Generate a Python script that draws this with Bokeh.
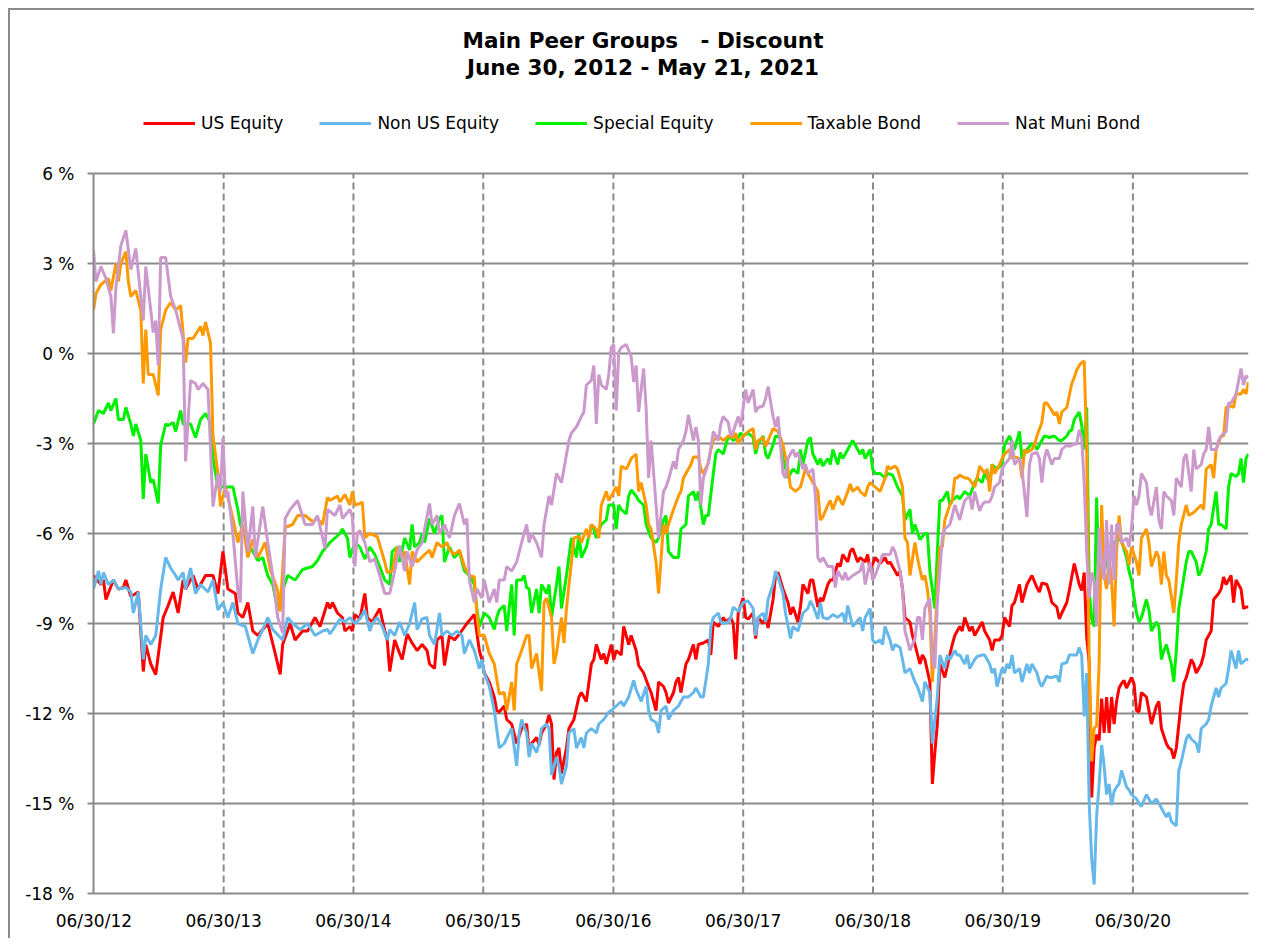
from datetime import date
from bokeh.plotting import figure
from bokeh.models import FixedTicker, PrintfTickFormatter, Legend, LegendItem, Label, Range1d
from bokeh.embed import file_html
from bokeh.resources import INLINE

# Weekly observations: (week index since Fri 06/29/2012, discount in %)
start_date = date(2012, 6, 29)
tick_dates = [date(2012, 6, 30), date(2013, 6, 30), date(2014, 6, 30), date(2015, 6, 30),
              date(2016, 6, 30), date(2017, 6, 30), date(2018, 6, 30), date(2019, 6, 30),
              date(2020, 6, 30)]
tick_labels = ["06/30/12", "06/30/13", "06/30/14", "06/30/15", "06/30/16",
               "06/30/17", "06/30/18", "06/30/19", "06/30/20"]
y_ticks = [-18, -15, -12, -9, -6, -3, 0, 3, 6]
last_week = 464

title_line1 = "Main Peer Groups \u00a0 - Discount"
title_line2 = "June 30, 2012 - May 21, 2021"

series_names = ["US Equity", "Non US Equity", "Special Equity", "Taxable Bond", "Nat Muni Bond"]
series_colors = ["#ff0000", "#66b8ea", "#00f000", "#ff9900", "#cc99cc"]

us_equity = [
    (0, -7.4), (3, -7.7), (4, -7.55), (5, -8.2), (8, -7.55), (10, -7.85), (12, -7.8), (13, -7.55),
    (15, -8.1), (18, -7.95), (20, -10.6), (21, -9.7), (23, -10.35), (25, -10.7), (28, -8.8), (30, -8.4),
    (32, -7.95), (34, -8.65), (36, -7.55), (37, -7.85), (40, -7.4), (42, -7.85), (45, -7.4), (48, -7.4),
    (50, -8.0), (52, -6.6), (54, -7.85), (57, -8.0), (58, -8.65), (60, -8.8), (62, -8.3), (64, -9.25),
    (66, -9.4), (70, -9.0), (73, -10.0), (75, -10.7), (76, -9.7), (79, -9.0), (81, -9.55), (84, -9.25),
    (86, -9.25), (89, -8.8), (91, -9.1), (94, -8.3), (95, -8.5), (96, -8.3), (98, -8.65), (100, -8.8),
    (101, -9.25), (103, -9.1), (104, -9.25), (105, -8.7), (107, -8.85), (109, -8.0), (110, -8.8),
    (112, -8.95), (115, -8.5), (117, -9.25), (118, -9.55), (119, -10.6), (121, -9.55), (123, -10.0),
    (124, -10.2), (126, -9.35), (128, -9.65), (130, -9.9), (132, -9.7), (134, -9.9), (135, -10.35),
    (137, -10.5), (138, -9.55), (140, -9.4), (141, -10.4), (143, -9.4), (145, -9.55), (147, -9.35),
    (150, -9.0), (152, -8.8), (153, -8.7), (155, -9.9), (156, -10.2), (157, -10.65), (159, -10.95),
    (161, -11.45), (162, -11.9), (163, -11.95), (165, -11.75), (166, -12.2), (168, -12.35), (170, -13.0),
    (172, -12.5), (174, -12.35), (175, -13.3), (176, -13.0), (178, -12.8), (179, -13.05), (180, -12.65),
    (182, -12.35), (183, -12.05), (184, -12.35), (185, -14.2), (186, -13.3), (187, -13.15), (188, -14.0),
    (190, -13.15), (191, -12.5), (193, -12.2), (195, -11.45), (196, -11.3), (198, -11.6), (200, -10.35),
    (201, -10.2), (202, -9.7), (204, -10.2), (205, -10.0), (206, -10.35), (208, -9.7), (209, -10.2),
    (210, -9.9), (212, -10.05), (213, -9.1), (214, -9.4), (215, -9.7), (216, -9.4), (218, -9.9),
    (219, -10.4), (221, -10.65), (223, -11.1), (224, -11.3), (226, -11.9), (227, -10.95), (229, -11.1),
    (230, -11.3), (231, -11.65), (233, -11.3), (234, -10.95), (235, -10.8), (236, -11.3), (238, -10.35),
    (239, -10.2), (241, -9.7), (242, -10.2), (243, -9.7), (245, -9.65), (247, -9.55), (248, -10.05),
    (249, -8.95), (251, -9.1), (253, -8.8), (254, -8.95), (256, -8.8), (257, -9.0), (258, -10.2),
    (259, -8.65), (261, -8.15), (262, -8.8), (263, -8.85), (265, -8.65), (266, -9.5), (267, -8.8),
    (269, -9.0), (270, -8.8), (271, -9.15), (273, -8.2), (274, -7.4), (275, -7.3), (277, -7.85),
    (279, -8.3), (280, -8.7), (281, -8.45), (283, -8.95), (284, -8.45), (285, -7.7), (287, -8.0),
    (288, -7.55), (289, -7.55), (291, -8.45), (292, -8.15), (293, -8.25), (295, -7.7), (296, -7.55),
    (297, -7.55), (299, -7.0), (300, -7.1), (301, -6.7), (303, -6.95), (304, -6.6), (305, -6.5),
    (307, -6.95), (308, -6.8), (310, -6.95), (311, -6.7), (312, -7.25), (314, -6.8), (316, -7.0),
    (318, -6.8), (319, -7.0), (320, -6.95), (322, -7.25), (323, -7.4), (324, -7.25), (325, -7.85),
    (326, -8.8), (328, -8.95), (329, -9.4), (330, -9.7), (332, -10.35), (333, -10.05), (334, -10.2),
    (336, -10.95), (337, -14.35), (338, -13.3), (339, -12.35), (340, -10.35), (342, -10.8), (344, -10.05),
    (345, -9.7), (346, -9.4), (348, -9.1), (349, -9.25), (350, -8.8), (352, -9.25), (353, -9.1),
    (354, -9.4), (356, -9.1), (357, -8.95), (358, -9.25), (360, -9.55), (361, -9.9), (362, -9.55),
    (364, -9.55), (365, -9.4), (366, -8.8), (368, -9.1), (369, -8.4), (370, -8.3), (372, -7.7),
    (373, -8.3), (374, -8.0), (375, -7.7), (377, -7.4), (379, -7.8), (380, -7.95), (381, -7.65),
    (383, -7.7), (384, -7.95), (385, -8.3), (387, -8.45), (388, -8.85), (389, -8.65), (391, -8.3),
    (392, -7.9), (393, -7.45), (394, -7.0), (396, -7.7), (397, -7.9), (398, -7.3), (399, -9.45),
    (400, -10.3), (401, -14.8), (402, -13.15), (403, -12.7), (404, -12.9), (405, -11.5), (406, -12.65),
    (407, -11.45), (408, -12.65), (409, -11.45), (410, -12.35), (411, -11.6), (412, -11.15), (413, -11.0),
    (414, -10.9), (415, -11.15), (417, -10.8), (418, -11.0), (419, -11.9), (420, -11.95), (421, -11.3),
    (423, -11.45), (424, -11.9), (425, -12.35), (427, -11.75), (428, -11.6), (429, -12.5), (431, -13.0),
    (432, -13.15), (433, -13.2), (434, -13.5), (435, -13.15), (437, -11.6), (438, -11.0), (439, -10.8),
    (441, -10.2), (442, -10.35), (443, -10.65), (445, -10.35), (446, -10.05), (447, -9.55), (449, -9.25),
    (450, -8.2), (452, -8.0), (453, -7.85), (454, -7.45), (455, -7.7), (457, -7.4), (458, -8.3),
    (459, -7.55), (460, -7.7), (461, -7.85), (462, -8.5), (463, -8.45), (464, -8.45),
]

non_us_equity = [
    (0, -7.85), (2, -7.25), (3, -7.7), (4, -7.3), (6, -7.7), (8, -7.55), (10, -7.85), (13, -7.8),
    (15, -7.95), (16, -8.65), (18, -7.95), (20, -10.2), (21, -9.4), (23, -9.7), (25, -9.4), (27, -7.85),
    (29, -6.8), (31, -7.15), (33, -7.4), (34, -7.55), (36, -7.3), (37, -7.85), (39, -7.15), (41, -8.0),
    (43, -7.7), (46, -7.95), (48, -7.55), (50, -8.55), (52, -8.3), (54, -8.8), (56, -8.3), (58, -9.0),
    (61, -9.1), (64, -10.0), (66, -9.55), (68, -9.2), (70, -8.8), (72, -9.2), (76, -9.55), (78, -8.8),
    (80, -9.0), (83, -9.2), (86, -9.0), (89, -9.4), (92, -9.25), (94, -9.2), (95, -9.35), (97, -9.1),
    (99, -8.85), (101, -8.95), (103, -8.8), (105, -9.0), (107, -8.85), (109, -8.55), (111, -9.25),
    (112, -9.0), (114, -8.8), (116, -9.1), (118, -9.55), (119, -9.2), (121, -9.4), (123, -8.95),
    (125, -9.4), (127, -9.0), (129, -8.3), (130, -9.2), (132, -8.85), (134, -8.8), (135, -9.4),
    (137, -9.7), (139, -8.65), (140, -9.4), (142, -9.25), (144, -9.4), (146, -9.25), (148, -9.4),
    (149, -10.0), (151, -9.55), (153, -9.9), (155, -10.5), (156, -10.2), (157, -10.65), (159, -11.1),
    (161, -11.9), (163, -13.15), (165, -13.0), (167, -12.65), (168, -12.5), (170, -13.75), (171, -12.65),
    (172, -12.2), (174, -12.65), (175, -13.45), (176, -13.0), (178, -13.3), (179, -13.0), (180, -12.5),
    (182, -12.35), (183, -12.5), (184, -14.05), (186, -13.45), (187, -13.75), (188, -14.35), (190, -13.75),
    (191, -12.65), (193, -12.5), (194, -13.15), (196, -12.8), (197, -13.15), (198, -12.65), (200, -12.5),
    (202, -12.65), (203, -12.35), (205, -12.2), (207, -11.95), (208, -11.9), (210, -11.75), (212, -11.6),
    (213, -11.75), (215, -11.45), (217, -10.9), (218, -11.2), (220, -11.6), (222, -11.1), (223, -11.9),
    (224, -12.2), (226, -12.3), (227, -12.65), (228, -11.9), (230, -11.75), (231, -12.2), (233, -11.9),
    (235, -11.75), (237, -11.45), (239, -11.45), (241, -11.3), (242, -11.15), (244, -11.45), (245, -11.45),
    (247, -10.35), (248, -9.1), (249, -8.8), (251, -8.65), (252, -8.95), (253, -9.0), (255, -8.95),
    (256, -8.8), (257, -8.45), (259, -8.6), (260, -8.45), (261, -8.3), (263, -8.25), (265, -8.5),
    (266, -9.4), (267, -8.8), (269, -8.65), (270, -8.95), (271, -8.2), (273, -7.7), (274, -7.25),
    (275, -7.45), (277, -8.0), (278, -8.65), (280, -9.5), (281, -9.1), (283, -9.25), (284, -8.95),
    (285, -8.65), (287, -8.5), (288, -8.25), (289, -8.4), (291, -8.85), (292, -8.3), (293, -8.8),
    (295, -8.85), (297, -8.7), (299, -8.8), (301, -8.65), (302, -9.0), (303, -8.4), (305, -9.1),
    (306, -9.0), (308, -8.8), (309, -9.25), (310, -8.8), (312, -8.5), (313, -9.55), (314, -9.65),
    (316, -9.55), (317, -9.7), (318, -9.1), (320, -9.55), (321, -9.9), (322, -9.7), (324, -9.8),
    (325, -10.2), (326, -10.65), (328, -10.5), (330, -10.95), (331, -11.1), (333, -11.6), (334, -10.95),
    (336, -11.3), (337, -13.0), (338, -12.2), (339, -11.45), (340, -10.05), (342, -10.5), (343, -10.05),
    (344, -10.2), (346, -9.9), (347, -10.05), (348, -10.05), (350, -10.35), (351, -10.05), (352, -10.5),
    (354, -10.2), (355, -10.1), (357, -10.05), (358, -10.05), (360, -10.35), (361, -10.65), (362, -10.5),
    (363, -11.1), (365, -10.5), (366, -10.65), (367, -10.35), (368, -10.5), (369, -10.05), (370, -10.65),
    (372, -10.5), (373, -10.95), (375, -10.35), (376, -10.65), (377, -10.35), (379, -10.65), (380, -10.95),
    (381, -11.1), (383, -10.75), (384, -10.8), (385, -10.8), (387, -10.75), (388, -10.95), (389, -10.35),
    (391, -10.3), (392, -10.05), (393, -10.05), (395, -10.05), (396, -9.8), (397, -10.05), (398, -12.1),
    (399, -10.65), (400, -15.0), (401, -16.85), (402, -17.7), (403, -15.4), (404, -14.35), (405, -13.05),
    (406, -13.75), (407, -14.7), (408, -14.35), (409, -15.05), (410, -14.6), (411, -14.45), (412, -14.35),
    (413, -13.9), (415, -14.45), (416, -14.55), (417, -14.7), (419, -14.85), (420, -15.0), (421, -15.1),
    (423, -14.7), (424, -14.85), (425, -15.0), (427, -14.85), (428, -15.0), (429, -15.15), (431, -15.45),
    (432, -15.3), (433, -15.6), (435, -15.75), (436, -13.9), (437, -13.6), (439, -12.85), (440, -12.7),
    (441, -12.85), (443, -13.0), (444, -13.3), (445, -12.5), (447, -12.35), (448, -12.2), (449, -11.75),
    (451, -11.15), (452, -11.45), (453, -11.15), (455, -11.0), (456, -10.5), (457, -9.9), (459, -10.5),
    (460, -9.9), (461, -10.35), (463, -10.2), (464, -10.2),
]

special_equity = [
    (0, -2.35), (2, -1.9), (4, -2.0), (6, -1.65), (7, -1.9), (9, -1.5), (10, -2.2), (12, -2.2),
    (13, -1.8), (15, -2.35), (16, -2.75), (17, -2.35), (19, -2.9), (20, -4.85), (21, -3.35), (23, -4.3),
    (24, -4.2), (26, -5.0), (27, -3.05), (29, -2.35), (30, -2.4), (32, -2.3), (33, -2.6), (35, -1.9),
    (36, -2.35), (39, -2.35), (41, -2.8), (43, -2.2), (45, -2.0), (47, -2.3), (48, -3.5), (50, -4.45),
    (53, -4.45), (56, -4.45), (58, -5.2), (59, -5.7), (62, -6.3), (66, -6.9), (68, -6.8), (70, -7.4),
    (72, -7.7), (74, -8.55), (76, -7.9), (78, -7.4), (81, -7.55), (84, -7.2), (88, -7.1), (90, -6.9),
    (92, -6.6), (95, -6.3), (97, -6.15), (99, -6.0), (100, -5.85), (102, -6.15), (103, -6.8), (105, -6.3),
    (107, -6.45), (109, -6.85), (111, -6.45), (113, -6.7), (115, -7.1), (117, -7.55), (119, -7.7),
    (120, -6.6), (122, -6.45), (123, -6.95), (125, -6.15), (127, -6.55), (128, -5.7), (129, -6.45),
    (131, -6.3), (132, -6.0), (133, -6.3), (135, -5.5), (137, -6.0), (139, -5.5), (140, -5.4),
    (141, -6.95), (143, -6.45), (145, -6.8), (147, -6.6), (149, -7.25), (151, -7.4), (153, -7.7),
    (154, -8.5), (155, -9.1), (157, -8.65), (159, -8.8), (161, -9.2), (162, -8.8), (163, -8.55),
    (165, -8.4), (166, -9.25), (168, -7.7), (169, -9.4), (170, -7.55), (172, -7.55), (173, -7.4),
    (174, -7.8), (175, -7.85), (176, -8.65), (178, -7.85), (179, -8.65), (180, -7.7), (182, -8.0),
    (183, -7.7), (184, -8.8), (186, -7.7), (187, -7.1), (188, -8.5), (190, -7.4), (192, -6.15),
    (194, -6.8), (195, -6.0), (196, -6.8), (198, -6.45), (200, -5.7), (201, -5.85), (202, -6.15),
    (204, -5.7), (206, -5.55), (207, -5.05), (209, -5.05), (210, -5.85), (211, -5.05), (212, -5.2),
    (214, -5.35), (215, -4.75), (216, -4.55), (218, -4.75), (219, -4.9), (221, -5.05), (222, -5.7),
    (224, -6.15), (226, -6.3), (227, -6.15), (229, -5.55), (230, -5.4), (231, -6.6), (233, -6.8),
    (235, -6.8), (236, -5.85), (238, -5.7), (239, -4.75), (241, -4.6), (242, -4.9), (243, -4.6),
    (245, -5.7), (246, -5.4), (247, -5.4), (249, -4.0), (250, -3.35), (251, -3.2), (253, -3.35),
    (255, -2.75), (257, -2.9), (259, -2.8), (260, -2.65), (261, -2.75), (263, -2.65), (265, -2.8),
    (266, -3.35), (267, -3.0), (269, -2.75), (270, -3.35), (271, -3.5), (273, -3.05), (274, -2.75),
    (276, -2.8), (277, -3.5), (279, -4.15), (281, -3.85), (283, -4.0), (284, -3.2), (285, -3.7),
    (287, -2.9), (288, -2.8), (289, -3.35), (291, -3.7), (292, -3.5), (293, -3.75), (295, -3.5),
    (296, -3.7), (297, -3.2), (299, -3.7), (300, -3.3), (301, -3.5), (303, -3.2), (305, -2.9),
    (306, -3.05), (308, -3.35), (309, -3.2), (310, -3.5), (312, -3.2), (313, -3.85), (314, -4.0),
    (316, -4.0), (318, -4.15), (319, -4.0), (321, -4.05), (323, -4.45), (325, -4.75), (326, -5.55),
    (328, -5.2), (329, -6.0), (330, -5.7), (332, -6.2), (334, -6.0), (335, -6.0), (336, -7.25),
    (338, -8.5), (339, -6.6), (340, -4.9), (341, -4.9), (343, -4.6), (344, -5.05), (345, -4.9),
    (347, -4.75), (348, -4.85), (350, -4.6), (352, -4.75), (354, -4.3), (355, -4.15), (357, -4.3),
    (358, -4.0), (360, -4.3), (361, -3.7), (363, -3.85), (365, -3.7), (366, -3.05), (368, -2.75),
    (370, -3.2), (372, -2.6), (373, -3.5), (375, -3.2), (377, -3.0), (378, -3.05), (379, -3.2),
    (381, -2.9), (382, -2.75), (384, -2.8), (386, -2.75), (388, -2.9), (389, -2.9), (391, -2.75),
    (392, -2.6), (393, -2.55), (394, -2.2), (396, -1.95), (397, -2.4), (398, -3.2), (399, -1.8),
    (400, -7.9), (401, -8.85), (402, -9.1), (403, -4.8), (404, -7.9), (405, -6.8), (406, -7.3),
    (407, -6.9), (408, -6.5), (410, -6.3), (412, -6.2), (413, -6.25), (415, -6.8), (416, -7.25),
    (417, -7.55), (419, -8.65), (420, -8.95), (421, -8.8), (423, -8.2), (424, -8.55), (425, -9.25),
    (427, -8.95), (428, -9.1), (429, -10.2), (430, -9.9), (431, -9.7), (433, -10.35), (434, -10.95),
    (435, -9.9), (436, -8.5), (437, -8.0), (439, -6.95), (440, -6.6), (441, -6.6), (443, -6.95),
    (444, -7.4), (445, -7.25), (447, -6.6), (448, -5.85), (449, -5.7), (451, -4.6), (452, -5.7),
    (453, -5.7), (455, -5.85), (456, -4.45), (457, -4.0), (459, -4.1), (460, -4.0), (461, -3.5),
    (462, -4.3), (463, -3.5), (464, -3.35),
]

taxable_bond = [
    (0, 1.45), (1, 2.0), (3, 2.3), (6, 2.5), (7, 2.1), (9, 3.0), (10, 2.4), (11, 3.0), (13, 3.4),
    (14, 2.4), (15, 1.9), (17, 2.1), (19, 1.45), (20, -1.0), (21, 0.8), (22, -0.7), (24, -0.7),
    (26, -1.4), (27, 0.8), (29, 1.45), (31, 1.7), (33, 1.45), (35, 1.6), (37, -0.3), (38, 0.5),
    (40, 0.5), (43, 0.9), (44, 0.6), (45, 1.05), (47, 0.35), (48, -2.75), (50, -4.0), (51, -5.1),
    (53, -4.45), (56, -5.5), (58, -6.3), (60, -5.7), (62, -6.8), (64, -6.2), (66, -6.8), (69, -6.3),
    (71, -7.2), (74, -7.9), (75, -8.6), (77, -5.8), (80, -5.7), (82, -5.4), (85, -5.4), (88, -5.6),
    (90, -5.5), (92, -5.7), (94, -4.8), (95, -4.9), (98, -4.75), (99, -4.95), (101, -4.7), (103, -5.05),
    (104, -4.6), (105, -5.05), (107, -5.0), (108, -4.95), (109, -6.15), (111, -6.0), (114, -6.1),
    (117, -6.95), (118, -7.3), (120, -7.25), (122, -6.45), (124, -6.8), (125, -6.6), (127, -7.7),
    (128, -6.6), (130, -6.95), (133, -6.7), (135, -6.55), (136, -6.8), (138, -6.3), (140, -6.45),
    (142, -6.3), (143, -6.55), (145, -6.7), (147, -6.55), (149, -7.1), (151, -7.4), (153, -7.45),
    (154, -8.65), (155, -9.4), (157, -9.4), (159, -10.0), (161, -10.35), (163, -11.35), (165, -11.3),
    (166, -11.9), (168, -10.95), (169, -11.9), (170, -10.35), (172, -9.9), (174, -9.4), (175, -9.4),
    (176, -10.5), (178, -10.0), (180, -11.25), (181, -8.3), (182, -8.15), (184, -8.8), (185, -10.35),
    (186, -10.0), (188, -8.8), (189, -9.65), (190, -8.5), (192, -6.95), (193, -6.15), (195, -6.1),
    (196, -6.3), (198, -5.85), (199, -6.15), (200, -5.7), (202, -5.85), (203, -6.15), (204, -5.05),
    (206, -4.6), (207, -4.9), (208, -4.75), (210, -4.45), (211, -4.75), (212, -3.75), (214, -3.85),
    (215, -3.7), (216, -3.5), (218, -3.35), (219, -4.6), (220, -4.3), (222, -5.05), (223, -5.7),
    (224, -5.85), (226, -6.95), (227, -8.0), (229, -5.7), (230, -6.0), (231, -5.7), (233, -5.2),
    (235, -4.75), (236, -4.6), (237, -4.15), (239, -3.85), (240, -3.7), (241, -3.45), (243, -3.45),
    (244, -3.85), (245, -4.0), (247, -3.65), (248, -3.2), (249, -2.9), (251, -2.75), (253, -2.9),
    (255, -2.75), (257, -2.8), (258, -2.65), (259, -3.0), (261, -2.75), (263, -2.6), (265, -2.5),
    (266, -3.2), (267, -2.9), (269, -2.8), (270, -3.1), (271, -2.9), (273, -2.5), (275, -2.6),
    (277, -3.05), (279, -3.85), (280, -4.45), (282, -4.6), (284, -4.45), (286, -3.85), (287, -4.0),
    (289, -4.3), (291, -4.6), (292, -5.55), (293, -5.45), (295, -5.05), (296, -4.9), (297, -5.2),
    (299, -4.75), (300, -4.9), (301, -5.05), (303, -4.6), (304, -4.35), (305, -4.6), (307, -4.45),
    (308, -4.6), (310, -4.75), (311, -4.45), (312, -4.3), (314, -4.45), (316, -4.6), (318, -4.15),
    (319, -3.75), (320, -3.85), (322, -3.75), (323, -3.85), (325, -4.45), (326, -6.15), (327, -6.3),
    (328, -7.4), (330, -6.3), (331, -6.8), (332, -7.2), (333, -7.55), (334, -7.4), (335, -7.85),
    (336, -8.65), (337, -10.95), (338, -9.55), (339, -7.85), (340, -6.45), (341, -6.45), (342, -5.55),
    (344, -5.05), (345, -4.9), (346, -4.15), (347, -4.15), (348, -4.05), (350, -4.15), (351, -4.15),
    (352, -4.2), (354, -4.45), (355, -4.15), (356, -3.75), (358, -4.0), (359, -3.85), (360, -4.6),
    (361, -3.7), (362, -4.0), (364, -3.7), (365, -3.5), (366, -3.35), (368, -3.2), (369, -3.5),
    (370, -3.45), (372, -3.5), (373, -4.15), (374, -3.2), (375, -3.3), (377, -3.2), (378, -3.05),
    (379, -2.75), (381, -2.3), (382, -1.65), (383, -1.65), (385, -1.9), (386, -2.05), (387, -1.95),
    (388, -2.35), (389, -1.95), (391, -1.8), (392, -1.4), (393, -1.0), (394, -0.8), (395, -0.55),
    (396, -0.4), (397, -0.3), (398, -0.25), (399, -3.2), (400, -10.3), (401, -13.6), (402, -12.5),
    (403, -12.4), (404, -10.3), (405, -5.05), (406, -7.4), (407, -7.85), (408, -6.8), (409, -7.55),
    (410, -9.1), (411, -6.6), (412, -5.4), (413, -6.3), (415, -6.6), (416, -7.05), (417, -6.45),
    (419, -6.95), (420, -7.4), (421, -6.15), (423, -5.85), (424, -6.3), (425, -7.1), (427, -6.6),
    (428, -6.8), (429, -7.7), (430, -6.6), (431, -7.4), (432, -7.55), (434, -8.65), (435, -7.55),
    (436, -6.3), (437, -5.7), (439, -5.05), (440, -5.4), (442, -5.3), (445, -5.05), (446, -5.2),
    (447, -3.85), (449, -3.7), (450, -4.15), (451, -3.2), (453, -2.75), (454, -2.75), (455, -1.8),
    (457, -1.75), (458, -1.8), (459, -1.35), (461, -1.35), (462, -1.2), (463, -1.35), (464, -0.95),
]

nat_muni_bond = [
    (0, 3.45), (1, 2.4), (3, 2.9), (5, 2.5), (7, 1.9), (8, 0.67), (9, 2.2), (11, 3.6), (13, 4.1),
    (15, 2.8), (17, 3.5), (18, 2.7), (20, 1.1), (21, 2.9), (24, 0.7), (25, 1.1), (26, -0.4), (27, 3.2),
    (29, 3.2), (31, 1.9), (33, 1.45), (35, 0.8), (36, 0.5), (37, -3.6), (39, -0.9), (41, -1.0),
    (42, -1.2), (44, -1.0), (46, -1.2), (48, -5.1), (50, -4.0), (51, -4.6), (52, -2.8), (53, -4.8),
    (54, -4.6), (56, -6.0), (58, -7.9), (59, -8.3), (60, -4.6), (62, -6.6), (64, -5.1), (65, -6.8),
    (68, -5.1), (70, -6.3), (72, -7.4), (74, -8.8), (76, -9.3), (77, -5.5), (79, -5.2), (82, -4.9),
    (85, -5.7), (88, -5.7), (90, -5.4), (93, -6.5), (94, -5.2), (97, -5.4), (99, -5.05), (100, -5.5),
    (103, -5.2), (104, -5.45), (105, -7.1), (106, -6.0), (107, -5.9), (109, -6.3), (111, -6.95),
    (113, -6.85), (115, -7.4), (117, -8.0), (119, -8.0), (121, -7.25), (123, -6.4), (125, -7.25),
    (126, -6.6), (128, -7.1), (130, -6.55), (132, -6.3), (135, -5.0), (136, -5.7), (138, -5.4),
    (139, -6.0), (141, -5.7), (143, -6.15), (145, -5.4), (147, -5.0), (149, -5.7), (150, -5.5),
    (151, -7.55), (153, -8.3), (154, -7.85), (156, -8.15), (157, -7.55), (159, -8.3), (161, -7.85),
    (162, -8.3), (163, -7.55), (165, -7.55), (166, -7.1), (168, -7.25), (170, -6.95), (172, -6.3),
    (174, -5.7), (175, -6.3), (176, -6.0), (178, -6.3), (180, -6.8), (181, -5.7), (183, -4.75),
    (184, -5.05), (186, -4.0), (188, -4.3), (189, -3.85), (191, -2.9), (192, -2.65), (194, -2.45),
    (196, -2.1), (197, -1.95), (198, -1.05), (200, -0.9), (201, -0.4), (202, -2.35), (203, -0.7),
    (204, -1.05), (206, -1.2), (207, -0.7), (208, 0.2), (209, 0.3), (210, -1.9), (211, 0.05),
    (212, 0.2), (214, 0.3), (216, -0.1), (217, -0.95), (218, -0.4), (219, -1.95), (220, -1.2),
    (221, -0.5), (222, -1.8), (223, -4.15), (224, -2.9), (226, -5.05), (227, -6.15), (229, -4.6),
    (230, -4.45), (231, -4.2), (233, -3.6), (234, -3.85), (235, -3.2), (237, -2.9), (238, -2.6),
    (239, -2.05), (241, -2.9), (242, -2.45), (243, -2.9), (244, -5.05), (245, -4.15), (247, -3.65),
    (248, -3.15), (249, -2.6), (251, -2.9), (252, -2.35), (253, -2.1), (255, -2.3), (256, -2.75),
    (257, -2.6), (259, -2.1), (260, -2.45), (261, -1.8), (262, -1.2), (263, -1.65), (265, -1.2),
    (266, -1.95), (267, -1.8), (269, -1.75), (270, -1.5), (271, -1.1), (273, -2.1), (274, -2.45),
    (275, -2.1), (277, -4.0), (278, -4.15), (279, -3.5), (281, -3.2), (282, -3.45), (283, -3.3),
    (285, -3.85), (286, -3.7), (287, -4.0), (289, -3.85), (290, -4.75), (291, -6.8), (292, -6.95),
    (293, -6.8), (295, -7.1), (297, -7.1), (298, -7.8), (299, -7.25), (301, -7.55), (302, -7.3),
    (303, -7.55), (305, -7.4), (308, -7.25), (309, -6.95), (310, -7.7), (312, -6.95), (313, -7.55),
    (314, -7.4), (316, -6.95), (317, -6.7), (318, -6.7), (320, -6.7), (321, -6.45), (322, -6.6),
    (324, -7.25), (325, -7.85), (326, -9.25), (327, -9.55), (328, -9.9), (330, -9.5), (331, -8.8),
    (332, -8.8), (333, -9.55), (334, -8.5), (336, -8.15), (337, -10.2), (338, -10.5), (339, -8.3),
    (340, -7.25), (341, -6.15), (342, -5.85), (344, -5.7), (345, -5.4), (346, -5.05), (348, -5.55),
    (349, -5.2), (350, -4.9), (352, -4.75), (353, -5.2), (354, -4.6), (356, -5.25), (357, -5.05),
    (358, -4.95), (360, -4.95), (361, -4.75), (362, -4.45), (364, -4.3), (365, -3.85), (366, -3.7),
    (368, -3.5), (369, -2.9), (370, -3.7), (372, -3.5), (373, -3.85), (375, -5.45), (376, -3.7),
    (377, -3.35), (379, -3.3), (380, -3.5), (381, -4.3), (382, -3.5), (383, -3.2), (385, -3.7),
    (386, -3.5), (388, -3.5), (389, -3.2), (391, -3.05), (392, -3.1), (393, -3.05), (395, -3.0),
    (396, -2.55), (397, -2.8), (398, -4.35), (399, -6.6), (400, -8.15), (401, -7.3), (402, -7.6),
    (403, -9.1), (404, -5.8), (405, -7.0), (406, -7.55), (407, -5.55), (408, -7.7), (409, -5.7),
    (410, -7.55), (411, -5.7), (412, -5.7), (413, -6.3), (415, -6.15), (416, -6.45), (417, -5.85),
    (418, -4.75), (419, -5.05), (420, -4.75), (421, -4.0), (423, -4.3), (424, -5.05), (425, -5.4),
    (427, -4.45), (428, -5.55), (429, -5.85), (430, -4.6), (431, -4.75), (433, -4.9), (434, -5.4),
    (435, -4.15), (437, -4.45), (438, -3.5), (439, -3.35), (441, -4.6), (442, -3.2), (443, -3.85),
    (445, -3.7), (446, -3.35), (447, -3.2), (448, -2.45), (449, -3.2), (451, -3.2), (452, -2.9),
    (453, -2.75), (455, -2.6), (456, -1.65), (457, -1.65), (458, -1.5), (459, -1.35), (461, -0.5),
    (462, -1.05), (463, -0.75), (464, -0.8),
]

all_series = [us_equity, non_us_equity, special_equity, taxable_bond, nat_muni_bond]

FONT = "DejaVu Sans"
GRAY = "#8a8a8a"
Y_MIN, Y_MAX = y_ticks[0], y_ticks[-1]
FRAME_W, FRAME_H = 1155, 883
HEADROOM = 163 / 30  # room inside the frame, above the 6 % line, for titles and legend

p = figure(frame_width=FRAME_W, frame_height=FRAME_H,
           x_range=Range1d(0, last_week * 7), y_range=Range1d(Y_MIN, Y_MAX + HEADROOM),
           output_backend="svg", toolbar_location=None,
           min_border_left=83, min_border_right=6, min_border_top=0, min_border_bottom=45,
           background_fill_color="white", border_fill_color="white")
p.styles = {"margin-left": "8px", "margin-top": "8px",
            "border-left": "2px solid #8a8a8a", "border-top": "2px solid #8a8a8a"}
p.outline_line_color = None

# x axis: ticks on 06/30 of each year, in days since start_date
tick_days = [(d - start_date).days for d in tick_dates]

# dashed vertical year lines, only over the value range of the y axis
p.segment(x0=tick_days[1:], y0=[Y_MIN] * (len(tick_days) - 1),
          x1=tick_days[1:], y1=[Y_MAX] * (len(tick_days) - 1),
          line_color=GRAY, line_width=2, line_dash="7 4")

renderers = []
for pts, color in zip(all_series, series_colors):
    xs = [w * 7 for w, _ in pts]
    ys = [v for _, v in pts]
    r = p.line(xs, ys, line_color=color, line_width=3)
    renderers.append(r)

p.xaxis.ticker = FixedTicker(ticks=tick_days)
p.xaxis.major_label_overrides = {d: lab for d, lab in zip(tick_days, tick_labels)}
p.xaxis.major_tick_out = 0
p.xaxis.major_tick_in = 0
p.xaxis.minor_tick_out = 0
p.xaxis.minor_tick_in = 0
p.xaxis.major_label_standoff = 17
p.xaxis.axis_line_color = GRAY
p.xaxis.axis_line_width = 2
p.xaxis.major_label_text_font = FONT
p.xaxis.major_label_text_font_size = "17px"
p.xaxis.major_label_text_color = "black"

p.yaxis.ticker = FixedTicker(ticks=y_ticks)
p.yaxis.bounds = (Y_MIN, Y_MAX)
p.yaxis.formatter = PrintfTickFormatter(format="%d %%")
p.yaxis.major_tick_out = 6
p.yaxis.major_tick_in = 0
p.yaxis.minor_tick_out = 0
p.yaxis.minor_tick_in = 0
p.yaxis.major_tick_line_color = GRAY
p.yaxis.major_tick_line_width = 2
p.yaxis.major_label_standoff = 13
p.yaxis.axis_line_color = GRAY
p.yaxis.axis_line_width = 2
p.yaxis.major_label_text_font = FONT
p.yaxis.major_label_text_font_size = "17px"
p.yaxis.major_label_text_color = "black"

p.ygrid.grid_line_color = GRAY
p.ygrid.grid_line_width = 2
p.xgrid.visible = False

legend = Legend(items=[LegendItem(label=n, renderers=[r]) for n, r in zip(series_names, renderers)],
                orientation="horizontal", location=(50, 760), margin=0, padding=0,
                spacing=36, glyph_width=52, glyph_height=20, label_height=20, label_standoff=6,
                label_text_font=FONT, label_text_font_size="17px", label_text_color="black",
                border_line_color=None, background_fill_alpha=0)
p.add_layout(legend)

# two title lines, placed in screen units from the frame's bottom-left corner
for txt, sy in ((title_line1, 853), (title_line2, 826)):
    p.add_layout(Label(x=549.5, y=sy, x_units="screen", y_units="screen", text=txt,
                       text_align="center", text_baseline="middle",
                       text_font=FONT, text_font_style="bold", text_font_size="21.5px",
                       text_color="black"))

open("out.html", "w").write(file_html(p, INLINE))
